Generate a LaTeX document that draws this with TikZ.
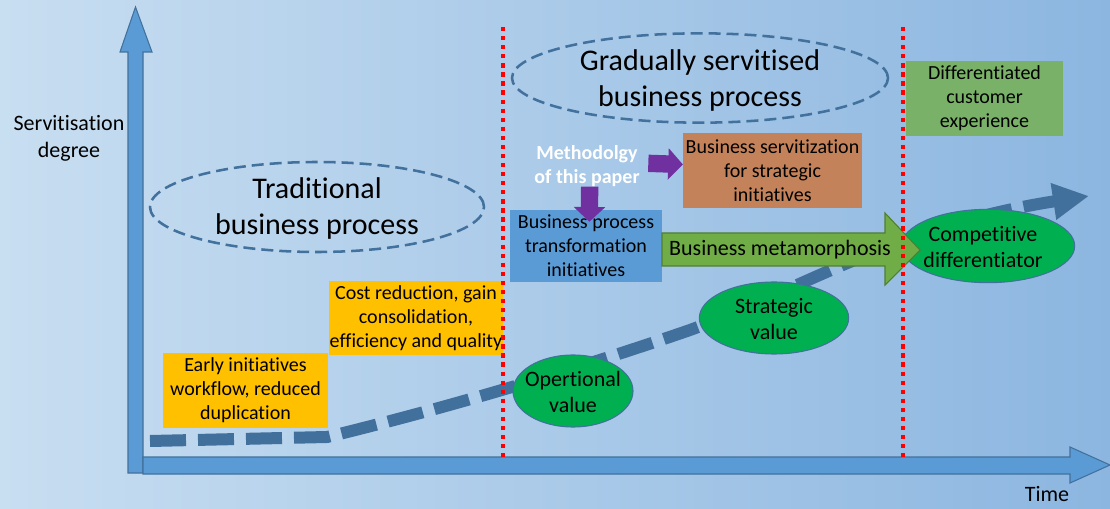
\documentclass[tikz,border=0pt]{standalone}
\usepackage{fontspec}
\setmainfont{Carlito}[RawFeature={-liga;-clig;-dlig}]
\usetikzlibrary{arrows.meta,shapes.geometric}
\definecolor{bgL}{RGB}{200,222,241}
\definecolor{bgR}{RGB}{140,182,224}
\definecolor{axfill}{RGB}{91,155,213}
\definecolor{axline}{RGB}{65,113,156}
\definecolor{curvec}{RGB}{66,112,156}
\definecolor{boxblue}{RGB}{91,155,213}
\definecolor{boxbrown}{RGB}{196,130,90}
\definecolor{boxgreen}{RGB}{122,177,104}
\definecolor{boxorange}{RGB}{255,192,0}
\definecolor{ellgreen}{RGB}{0,176,80}
\definecolor{arrgreen}{RGB}{112,173,71}
\definecolor{arrgreenline}{RGB}{80,126,50}
\definecolor{purp}{RGB}{112,48,160}
\tikzset{
  dashell/.style={ellipse, draw=axline, line width=1.9pt, dash pattern=on 9pt off 4.5pt, inner sep=0pt},
  greenell/.style={ellipse, fill=ellgreen, draw=axline, line width=0.8pt, inner sep=0pt},
  elltxt/.style={align=center, font=\fontsize{16.5}{19.5}\selectfont, text=black},
  tbox/.style={rectangle, inner sep=0pt, align=center, font=\fontsize{15}{18}\selectfont, text=black},
  bigtxt/.style={align=center, font=\fontsize{22.5}{27}\selectfont},
  lbl/.style={align=center, font=\fontsize{16.5}{20}\selectfont},
  reddot/.style={red, line width=3.2pt, dash pattern=on 3.2pt off 3.6pt},
  purparrow/.style={purp, line width=13pt, -{Triangle[length=11pt,width=23pt]}},
  axisshape/.style={fill=axfill, draw=axline, line width=0.8pt},
  methtxt/.style={align=center, text=white, font=\bfseries\fontsize{15}{18}\selectfont},
}
\begin{document}
\begin{tikzpicture}[x=0.75pt,y=-0.75pt]
\useasboundingbox (0,0) rectangle (1110,509);
\shade[left color=bgL, right color=bgR] (0,0) rectangle (1110,509);

% dashed ellipses
\node[dashell, minimum width=250.5pt, minimum height=67.5pt] (tradell) at (317,207) {};
\node[bigtxt] (trad) at (317,209) {Traditional\\business process};
\node[dashell, minimum width=282pt, minimum height=67pt] (gradell) at (700,78) {};
\node[bigtxt] (grad) at (700,81) {Gradually servitised\\business process};

% axes
\draw[axisshape] (128,473) -- (128,52) -- (120,52) -- (135.5,7) -- (152,52) -- (143,52) -- (143,473) -- cycle;
\draw[axisshape] (143,457) -- (1070,457) -- (1070,447) -- (1110,465) -- (1070,483) -- (1070,474) -- (143,474) -- cycle;
\node[lbl] (ylab) at (69,138) {Servitisation\\degree};
\node[lbl] (xlab) at (1047,494) {Time};

% dashed curve
\draw[curvec, line width=9pt, dash pattern=on 27pt off 9pt, -{Triangle[length=27pt,width=26pt]}]
  (150,441) -- (327,437) .. controls (430,412) and (560,375) .. (690,330)
  .. controls (800,290) and (900,225) .. (1089,196);

% green ellipses
\node[greenell, minimum width=90pt, minimum height=54pt] (oper) at (573,391) {};
\node[elltxt] (opert) at (573,392) {Opertional\\value};
\node[greenell, minimum width=112pt, minimum height=54pt] (strat) at (774,318) {};
\node[elltxt] (stratt) at (774,319) {Strategic\\value};
\node[greenell, minimum width=130pt, minimum height=55pt] (comp) at (988,246) {};
\node[elltxt] (compt) at (983,247) {Competitive\\differentiator};

% boxes
\node[tbox, fill=boxorange, minimum width=124pt, minimum height=56pt] (early) at (245.5,390.5) {Early initiatives\\workflow, reduced\\duplication};
\node[tbox, fill=boxorange, minimum width=130.5pt, minimum height=55.5pt] (cost) at (416,318) {Cost reduction, gain\\consolidation,\\efficiency and quality};
\node[tbox, fill=boxblue, minimum width=114pt, minimum height=54pt] (bpt) at (586,246) {Business process\\transformation\\initiatives};
\node[tbox, fill=boxbrown, minimum width=134pt, minimum height=56pt] (bsv) at (772.5,170.5) {Business servitization\\for strategic\\initiatives};
\node[tbox, fill=boxgreen, minimum width=118pt, minimum height=56pt] (dce) at (984.5,98.5) {Differentiated\\customer\\experience};

% metamorphosis block arrow
\draw[fill=arrgreen, draw=arrgreenline, line width=0.8pt] (662,233) -- (885,233) -- (885,213) -- (920,250) -- (885,285) -- (885,266) -- (662,266) -- cycle;
\node[font=\fontsize{16.5}{20}\selectfont] (meta) at (780,250) {Business metamorphosis};

% methodology
\node[methtxt, text opacity=0] (meth) at (587,166) {Methodolgy\\of this paper};
\draw[purparrow] ([xshift=2pt,yshift=3.5pt]meth.south) -- ([xshift=2.5pt,yshift=-9pt]bpt.north);
\draw[purparrow] ([xshift=3pt,yshift=2pt]meth.east) -- ([yshift=4.5pt]bsv.west);
\node[methtxt] (methtxt) at (meth) {Methodolgy\\of this paper};

% red dotted lines
\draw[reddot] (503,27) -- (503,457);
\draw[reddot] (903,27) -- (903,457);
\end{tikzpicture}
\end{document}
